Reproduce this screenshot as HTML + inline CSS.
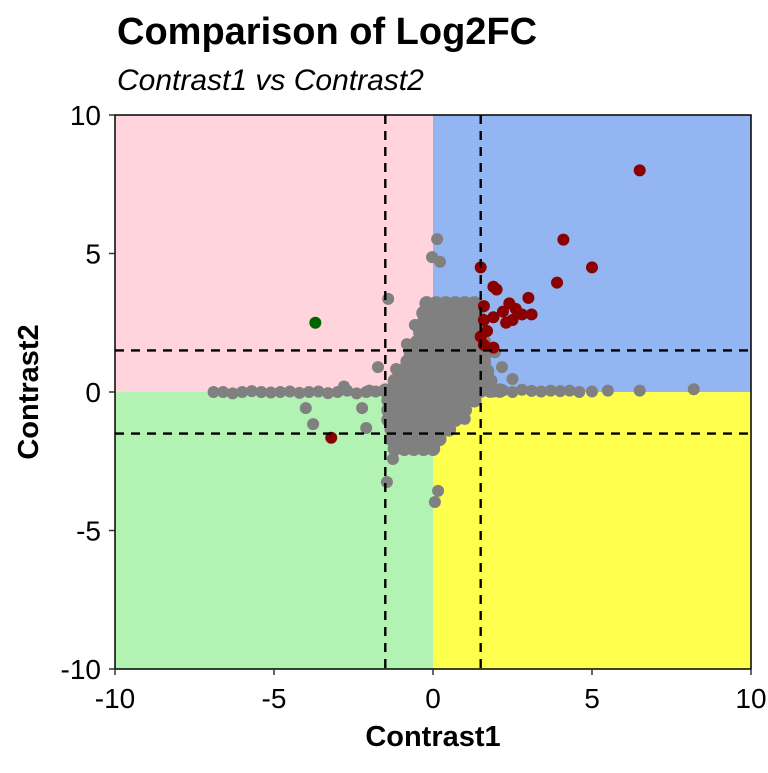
<!DOCTYPE html>
<html><head><meta charset="utf-8"><style>
body{margin:0;background:#fff;}
svg text{font-family:"Liberation Sans",Arial,sans-serif;}
</style></head><body>
<svg width="768" height="768" viewBox="0 0 768 768" id="chart">
<text x="117" y="44" font-size="38" font-weight="bold" fill="#000">Comparison of Log2FC</text>
<text x="117" y="90" font-size="30" font-style="italic" fill="#000">Contrast1 vs Contrast2</text>
<g id="regions"></g>
<g id="points"></g>
<g id="lines"></g>
<g id="axes"></g>
<text x="433" y="746" font-size="29" font-weight="bold" text-anchor="middle">Contrast1</text>
<text x="38" y="392" font-size="29" font-weight="bold" text-anchor="middle" transform="rotate(-90 38 392)">Contrast2</text>
</svg>
<script>
const xTicks=[-10,-5,0,5,10];
const yTicks=[-10,-5,0,5,10];
const thresholds=[-1.5,1.5];
const tailX=[-6.9,-6.6,-6.3,-6.0,-5.7,-5.4,-5.1,-4.8,-4.5,-4.2,-3.9,-3.6,-3.3,-3.0,-2.7,-2.4,-2.1,-1.8,-2.8,-2.0,
1.9,2.2,2.5,2.8,3.1,3.4,3.7,4.0,4.3,4.6,5.0,5.5,6.5,8.2];
const tailY=[0,0,-0.05,0,0.03,0,-0.02,0,0.02,-0.03,0,0.02,-0.04,0,0.05,-0.05,0,0.02,0.2,0.05,
0.02,0.06,0,0.08,0.04,0.02,0.05,0.03,0.05,0,0.02,0.05,0.05,0.1];
const outlierX=[1.95,2.17,2.5,1.0,-4.0,-3.77,-2.23,-2.1,-1.73,-1.16,-0.82,-0.57,-1.41,-1.45,-1.26,0.16,0.06,0.13,-0.03,0.22,0.69,1.16];
const outlierY=[1.44,0.9,0.47,-0.97,-0.58,-1.16,-0.58,-1.3,0.9,0.83,1.73,2.42,3.36,-3.25,-2.42,-3.57,-3.97,5.52,4.87,4.7,3.07,3.07];
const clusterX=[
-0.2,0.1,0.4,0.7,1.0,1.3,
-0.3,0,0.3,0.6,0.9,1.2,1.4,
-0.3,0,0.3,0.6,0.9,1.2,1.4,
-0.4,-0.1,0.2,0.5,0.8,1.1,1.4,
-0.5,-0.2,0.1,0.4,0.7,1.0,1.3,1.6,
-0.7,-0.4,-0.1,0.2,0.5,0.8,1.1,1.4,1.7,
-0.8,-0.5,-0.2,0.1,0.4,0.7,1.0,1.3,1.6,
-1.0,-0.7,-0.4,-0.1,0.2,0.5,0.8,1.1,1.4,1.7,
-1.2,-0.9,-0.6,-0.3,0,0.3,0.6,0.9,1.2,1.5,1.8,
-1.5,-1.2,-0.9,-0.6,-0.3,0,0.3,0.6,0.9,1.2,1.5,1.8,2.1,
-1.4,-1.1,-0.8,-0.5,-0.2,0.1,0.4,0.7,1.0,1.3,
-1.4,-1.1,-0.8,-0.5,-0.2,0.1,0.4,0.7,1.0,
-1.4,-1.1,-0.8,-0.5,-0.2,0.1,0.4,0.7,
-1.3,-1.0,-0.7,-0.4,-0.1,0.2,0.5,
-1.3,-1.0,-0.7,-0.4,-0.1,0.2,
-1.2,-0.9,-0.6,-0.3,0.0];
const clusterY=[
3.2,3.2,3.2,3.2,3.2,3.2,
2.85,2.85,2.85,2.85,2.85,2.85,2.85,
2.5,2.5,2.5,2.5,2.5,2.5,2.5,
2.15,2.15,2.15,2.15,2.15,2.15,2.15,
1.8,1.8,1.8,1.8,1.8,1.8,1.8,1.8,
1.45,1.45,1.45,1.45,1.45,1.45,1.45,1.45,1.45,
1.1,1.1,1.1,1.1,1.1,1.1,1.1,1.1,1.1,
0.75,0.75,0.75,0.75,0.75,0.75,0.75,0.75,0.75,0.75,
0.4,0.4,0.4,0.4,0.4,0.4,0.4,0.4,0.4,0.4,0.4,
0.05,0.05,0.05,0.05,0.05,0.05,0.05,0.05,0.05,0.05,0.05,0.05,0.05,
-0.3,-0.3,-0.3,-0.3,-0.3,-0.3,-0.3,-0.3,-0.3,-0.3,
-0.65,-0.65,-0.65,-0.65,-0.65,-0.65,-0.65,-0.65,-0.65,
-1.0,-1.0,-1.0,-1.0,-1.0,-1.0,-1.0,-1.0,
-1.35,-1.35,-1.35,-1.35,-1.35,-1.35,-1.35,
-1.7,-1.7,-1.7,-1.7,-1.7,-1.7,
-2.05,-2.05,-2.05,-2.05,-2.05];
const redX=[6.5,4.1,5.0,3.9,1.5,1.9,2.0,3.0,2.4,2.6,2.2,1.9,2.5,3.1,2.8,1.6,1.7,1.6,2.3,1.6,1.9,1.5,-3.2];
const redY=[8.0,5.5,4.5,3.95,4.5,3.8,3.7,3.4,3.2,3.0,2.9,2.7,2.6,2.8,2.8,2.6,2.2,3.1,2.5,1.7,1.6,2.0,-1.65];
const greenX=[-3.7];
const greenY=[2.5];
const L=115,R=751,T=115,B=669;
const sx=v=>L+(v+10)/20*(R-L);
const sy=v=>B-(v+10)/20*(B-T);
const NS='http://www.w3.org/2000/svg';
function mk(tag,attrs,parent){const e=document.createElementNS(NS,tag);for(const k in attrs)e.setAttribute(k,attrs[k]);parent.appendChild(e);return e;}
const reg=document.getElementById('regions');
const quads=[[-10,0,0,10,'#ffd4dc','quadrant-top-left'],[0,10,0,10,'#93b5f2','quadrant-top-right'],[-10,0,-10,0,'#b2f2b2','quadrant-bottom-left'],[0,10,-10,0,'#ffff4d','quadrant-bottom-right']];
quads.forEach(q=>{const r=mk('rect',{x:sx(q[0]),y:sy(q[3]),width:sx(q[1])-sx(q[0]),height:sy(q[2])-sy(q[3]),fill:q[4]},reg);

});
const pts=document.getElementById('points');
function drawPts(xs,ys,col,name,rad){for(let i=0;i<xs.length;i++){const c=mk('circle',{cx:sx(xs[i]),cy:sy(ys[i]),r:rad,fill:col},pts);

}}
drawPts(tailX,tailY,'#808080','gray-point',6);
drawPts(outlierX,outlierY,'#808080','gray-point',6);
drawPts(clusterX,clusterY,'#808080','gray-point',7.2);
drawPts(redX,redY,'#8b0000','red-point',6);
drawPts(greenX,greenY,'#006400','green-point',6);
const ln=document.getElementById('lines');
thresholds.forEach(t=>{
const v=mk('line',{x1:sx(t),x2:sx(t),y1:T,y2:B,stroke:'#000','stroke-width':2.4,'stroke-dasharray':'9,7'},ln);


const h=mk('line',{x1:L,x2:R,y1:sy(t),y2:sy(t),stroke:'#000','stroke-width':2.4,'stroke-dasharray':'9,7'},ln);

});
const ax=document.getElementById('axes');
const fr=mk('rect',{x:L,y:T,width:R-L,height:B-T,fill:'none',stroke:'#000','stroke-width':1.5},ax);


xTicks.forEach(t=>{mk('line',{x1:sx(t),x2:sx(t),y1:B,y2:B+6,stroke:'#333','stroke-width':1.5},ax);
const tx=mk('text',{x:sx(t),y:B+39,'font-size':28,'text-anchor':'middle',fill:'#000'},ax);tx.textContent=t;

});
yTicks.forEach(t=>{mk('line',{x1:L-6,x2:L,y1:sy(t),y2:sy(t),stroke:'#333','stroke-width':1.5},ax);
const tx=mk('text',{x:L-14,y:sy(t)+10,'font-size':28,'text-anchor':'end',fill:'#000'},ax);tx.textContent=t;

});
</script>
</body></html>
